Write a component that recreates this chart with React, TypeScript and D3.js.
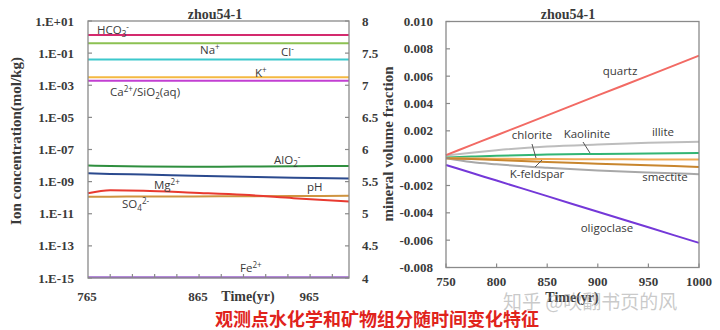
import React from "react";
import * as d3 from "d3";

// ---------------- data: left chart (ion concentration) ----------------
const ionTime = [765, 785, 815, 860, 905, 950, 1000];
const hco3 = [1.35, 1.35, 1.35, 1.35, 1.35, 1.35, 1.35];
const naIon = [0.41, 0.41, 0.41, 0.41, 0.41, 0.41, 0.41];
const clIon = [0.04, 0.04, 0.04, 0.04, 0.04, 0.04, 0.04];
const kIon = [0.0031, 0.0031, 0.0031, 0.0031, 0.0031, 0.0031, 0.0031];
const caSiO2 = [0.0019, 0.0019, 0.0019, 0.0019, 0.0019, 0.0019, 0.0019];
const alo2 = [1.0e-8, 9.3e-9, 8.8e-9, 8.5e-9, 8.6e-9, 9.0e-9, 9.5e-9];
const mgIon = [1.9e-10, 2.9e-10, 2.75e-10, 2.05e-10, 1.5e-10, 9.3e-11, 5.7e-11];
const so4 = [1.15e-10, 1.16e-10, 1.18e-10, 1.2e-10, 1.23e-10, 1.27e-10, 1.3e-10];
const feIon = [1.1e-15, 1.1e-15, 1.1e-15, 1.1e-15, 1.1e-15, 1.1e-15, 1.1e-15];
const phVal = [5.63, 5.62, 5.61, 5.59, 5.575, 5.56, 5.55];

const ionTickVals = [1e1, 1e-1, 1e-3, 1e-5, 1e-7, 1e-9, 1e-11, 1e-13, 1e-15];
const ionTickLabels = ["1.E+01", "1.E-01", "1.E-03", "1.E-05", "1.E-07", "1.E-09", "1.E-11", "1.E-13", "1.E-15"];
const phTicks = [8, 7.5, 7, 6.5, 6, 5.5, 5, 4.5, 4];
const phTickLabels = ["8", "7.5", "7", "6.5", "6", "5.5", "5", "4.5", "4"];
const ionXLabels = [765, 865, 965];
const ionXMinor = [785, 805, 825, 845, 865, 885, 905, 925, 945, 965, 985];

// ---------------- data: right chart (mineral volume fraction) ----------------
const minTime = [750, 775, 800, 850, 900, 950, 1000];
const quartz = [0.00022, 0.00095, 0.00168, 0.00313, 0.00459, 0.00604, 0.0075];
const illite = [0.0002, 0.0004, 0.00058, 0.00085, 0.001, 0.00112, 0.0012];
const kaolinite = [0.00005, 0.00012, 0.00018, 0.00026, 0.00031, 0.00034, 0.00037];
const chlorite = [0, -0.00002, -0.00004, -0.00006, -0.00008, -0.00009, -0.0001];
const kfeldspar = [0, -0.00007, -0.00014, -0.00028, -0.0004, -0.00052, -0.00064];
const smectite = [0, -0.00028, -0.00045, -0.0007, -0.0009, -0.00105, -0.00117];
const oligoclase = [-0.0005, -0.00107, -0.00164, -0.00278, -0.00392, -0.00506, -0.0062];

const minYTicks = [0.01, 0.008, 0.006, 0.004, 0.002, 0, -0.002, -0.004, -0.006, -0.008];
const minYLabels = ["0.010", "0.008", "0.006", "0.004", "0.002", "0.000", "-0.002", "-0.004", "-0.006", "-0.008"];
const minXTicks = [750, 800, 850, 900, 950, 1000];

const titleText = "zhou54-1";
const captionText = "观测点水化学和矿物组分随时间变化特征";
const watermarkText = "知乎 @吹翻书页的风";

// ---------------- layout ----------------
const W = 720, H = 330;
const LP = { x0: 88, x1: 349, y0: 21, y1: 278 };
const RP = { x0: 446, x1: 699, y0: 21.5, y1: 267.5 };
const AX = "#8a8a8a";
const TXT = "#3a3a3a";
const SERIF = "'Liberation Serif', 'DejaVu Serif', serif";
const SANS = "'Open Sans', 'Noto Sans', sans-serif";

type Part = [string, "n" | "b" | "p"];

function Rich({ x, y, parts, size = 11.5, anchor = "start" }: { x: number; y: number; parts: Part[]; size?: number; anchor?: string }) {
  let cur = 0;
  return (
    <text x={x} y={y} fontFamily={SANS} fontSize={size} fill={TXT} textAnchor={anchor}>
      {parts.map(([t, k], i) => {
        const target = k === "b" ? size * 0.3 : k === "p" ? -size * 0.35 : 0;
        const dy = target - cur;
        cur = target;
        return (
          <tspan key={i} dy={dy} fontSize={k === "n" ? size : size * 0.7}>
            {t}
          </tspan>
        );
      })}
    </text>
  );
}

export default function App() {
  // left scales
  const lx = d3.scaleLinear().domain([765, 1000]).range([LP.x0, LP.x1]);
  const ly = d3.scaleLog().domain([1e-15, 1e1]).range([LP.y1, LP.y0]);
  const lyPh = d3.scaleLinear().domain([4, 8]).range([LP.y1, LP.y0]);
  // right scales
  const rx = d3.scaleLinear().domain([750, 1000]).range([RP.x0, RP.x1]);
  const ry = d3.scaleLinear().domain([-0.008, 0.01]).range([RP.y1, RP.y0]);

  const ionLine = (vals: number[]) =>
    d3.line<number>().x((_, i) => lx(ionTime[i])).y((v) => ly(v)).curve(d3.curveMonotoneX)(vals) || "";
  const phLine = d3.line<number>().x((_, i) => lx(ionTime[i])).y((v) => lyPh(v)).curve(d3.curveMonotoneX)(phVal) || "";
  const minLine = (vals: number[]) =>
    d3.line<number>().x((_, i) => rx(minTime[i])).y((v) => ry(v)).curve(d3.curveMonotoneX)(vals) || "";

  const ionSeries: [number[], string][] = [
    [hco3, "#d42a6e"],
    [naIon, "#8cc152"],
    [clIon, "#3cc8cc"],
    [kIon, "#f4b942"],
    [caSiO2, "#c23fd2"],
    [alo2, "#2f8f3e"],
    [so4, "#cf9440"],
    [mgIon, "#e83a30"],
    [feIon, "#9a62cc"],
  ];

  const minSeries: [number[], string][] = [
    [illite, "#bdbdbd"],
    [smectite, "#a8a8a8"],
    [kaolinite, "#33b574"],
    [chlorite, "#f0aa55"],
    [kfeldspar, "#c8862e"],
    [quartz, "#f26a64"],
    [oligoclase, "#7438d8"],
  ];

  return (
    <svg width={W} height={H} style={{ position: "absolute", left: 0, top: 0, background: "#fff" }}>
      <rect x={0} y={0} width={W} height={H} fill="#fff" />

      {/* ---------------- LEFT CHART ---------------- */}
      <text x={215} y={19} textAnchor="middle" fontFamily={SERIF} fontWeight="bold" fontSize={14} fill={TXT}>
        {titleText}
      </text>
      {ionSeries.map(([vals, c], i) => (
        <path key={i} d={ionLine(vals)} fill="none" stroke={c} strokeWidth={2} />
      ))}
      <path d={phLine} fill="none" stroke="#2b4a8e" strokeWidth={2} />
      <rect x={LP.x0} y={LP.y0} width={LP.x1 - LP.x0} height={LP.y1 - LP.y0} fill="none" stroke={AX} strokeWidth={1.3} />
      {ionTickVals.map((v, i) => (
        <g key={i}>
          <line x1={LP.x0} x2={LP.x0 + 4} y1={ly(v)} y2={ly(v)} stroke={AX} strokeWidth={1.2} />
          <text x={74} y={ly(v) + 4.5} textAnchor="end" fontFamily={SERIF} fontWeight="bold" fontSize={13} fill={TXT}>
            {ionTickLabels[i]}
          </text>
        </g>
      ))}
      {phTicks.map((v, i) => (
        <g key={i}>
          <line x1={LP.x1 - 4} x2={LP.x1} y1={lyPh(v)} y2={lyPh(v)} stroke={AX} strokeWidth={1.2} />
          <text x={362} y={lyPh(v) + 4.5} textAnchor="start" fontFamily={SERIF} fontWeight="bold" fontSize={13} fill={TXT}>
            {phTickLabels[i]}
          </text>
        </g>
      ))}
      {ionXMinor.map((v, i) => (
        <line key={i} x1={lx(v)} x2={lx(v)} y1={LP.y1} y2={LP.y1 - 4} stroke={AX} strokeWidth={1.2} />
      ))}
      {ionXLabels.map((v, i) => (
        <text key={i} x={lx(v) - 1} y={301} textAnchor="middle" fontFamily={SERIF} fontWeight="bold" fontSize={13} fill={TXT}>
          {v}
        </text>
      ))}
      <text x={248} y={301} textAnchor="middle" fontFamily={SERIF} fontWeight="bold" fontSize={14} fill={TXT}>
        Time(yr)
      </text>
      <text transform="translate(21,141) rotate(-90)" textAnchor="middle" fontFamily={SERIF} fontWeight="bold" fontSize={15} fill={TXT}>
        Ion concentration(mol/kg)
      </text>

      <Rich x={97} y={34} parts={[["HCO", "n"], ["3", "b"], ["-", "p"]]} />
      <Rich x={200} y={54} parts={[["Na", "n"], ["+", "p"]]} />
      <Rich x={281} y={56} parts={[["Cl", "n"], ["-", "p"]]} />
      <Rich x={255} y={77} parts={[["K", "n"], ["+", "p"]]} />
      <Rich x={110} y={96} parts={[["Ca", "n"], ["2+", "p"], ["/SiO", "n"], ["2", "b"], ["(aq)", "n"]]} />
      <Rich x={274} y={164} parts={[["AlO", "n"], ["2", "b"], ["-", "p"]]} />
      <Rich x={307} y={191} parts={[["pH", "n"]]} />
      <Rich x={154} y={189} parts={[["Mg", "n"], ["2+", "p"]]} />
      <Rich x={122} y={208} parts={[["SO", "n"], ["4", "b"], ["2-", "p"]]} />
      <Rich x={240} y={272} parts={[["Fe", "n"], ["2+", "p"]]} />

      {/* ---------------- RIGHT CHART ---------------- */}
      <text x={568} y={19} textAnchor="middle" fontFamily={SERIF} fontWeight="bold" fontSize={14} fill={TXT}>
        {titleText}
      </text>
      {minSeries.map(([vals, c], i) => (
        <path key={i} d={minLine(vals)} fill="none" stroke={c} strokeWidth={2} />
      ))}
      <rect x={RP.x0} y={RP.y0} width={RP.x1 - RP.x0} height={RP.y1 - RP.y0} fill="none" stroke={AX} strokeWidth={1.3} />
      {minYTicks.map((v, i) => (
        <g key={i}>
          <line x1={RP.x0} x2={RP.x0 + 4} y1={ry(v)} y2={ry(v)} stroke={AX} strokeWidth={1.2} />
          <text x={433} y={ry(v) + 4.5} textAnchor="end" fontFamily={SERIF} fontWeight="bold" fontSize={13} fill={TXT}>
            {minYLabels[i]}
          </text>
        </g>
      ))}
      {minXTicks.map((v, i) => (
        <g key={i}>
          <line x1={rx(v)} x2={rx(v)} y1={RP.y1} y2={RP.y1 - 4} stroke={AX} strokeWidth={1.2} />
          <text x={rx(v)} y={286} textAnchor="middle" fontFamily={SERIF} fontWeight="bold" fontSize={13} fill={TXT}>
            {v}
          </text>
        </g>
      ))}
      <text x={572} y={302} textAnchor="middle" fontFamily={SERIF} fontWeight="bold" fontSize={14} fill={TXT}>
        Time(yr)
      </text>
      <text transform="translate(393,144) rotate(-90)" textAnchor="middle" fontFamily={SERIF} fontWeight="bold" fontSize={15} fill={TXT}>
        mineral volume fraction
      </text>

      <Rich x={620} y={75} anchor="middle" parts={[["quartz", "n"]]} />
      <Rich x={532} y={139} anchor="middle" parts={[["chlorite", "n"]]} />
      <Rich x={587} y={138} anchor="middle" parts={[["Kaolinite", "n"]]} />
      <Rich x={663} y={136} anchor="middle" parts={[["illite", "n"]]} />
      <Rich x={537} y={178} anchor="middle" parts={[["K-feldspar", "n"]]} />
      <Rich x={665} y={181} anchor="middle" parts={[["smectite", "n"]]} />
      <Rich x={607} y={232} anchor="middle" parts={[["oligoclase", "n"]]} />
      <line x1={532} y1={144} x2={536} y2={158} stroke="#555" strokeWidth={1} />
      <line x1={583} y1={142} x2={590} y2={153} stroke="#555" strokeWidth={1} />
      <line x1={535} y1={167} x2={542} y2={160} stroke="#555" strokeWidth={1} />

      {/* watermark + caption */}
      <text x={503} y={309} fontFamily="'Noto Sans CJK SC', sans-serif" fontSize={19} fill="rgba(150,150,150,0.5)">
        {watermarkText}
      </text>
      <text x={377} y={326} textAnchor="middle" fontFamily="'Noto Sans CJK SC', sans-serif" fontWeight="bold" fontSize={18} fill="#e0231c">
        {captionText}
      </text>
    </svg>
  );
}
